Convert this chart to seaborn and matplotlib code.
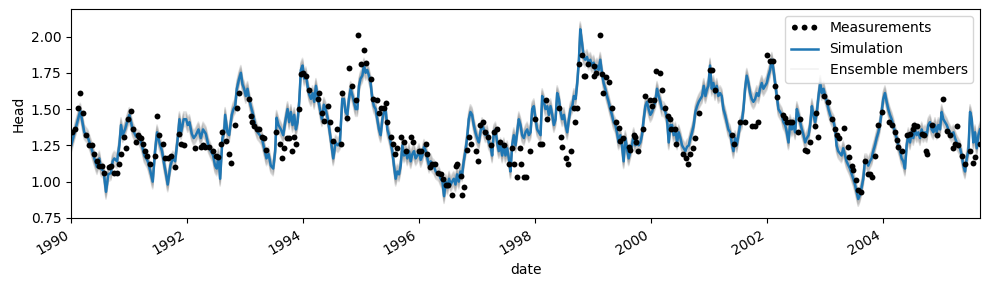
import numpy as np
import pandas as pd
import seaborn as sns
import matplotlib
matplotlib.use("Agg")
from matplotlib import pyplot as plt
import matplotlib.dates as mdates

# simulated head (decimal year, head)
sim_year = [
    1990.000, 1990.157, 1990.226, 1990.283, 1990.341, 1990.399, 1990.445, 1990.485, 1990.514, 1990.560,
    1990.600, 1990.640, 1990.686, 1990.715, 1990.744, 1990.790, 1990.830, 1990.859, 1990.888, 1990.928,
    1990.963, 1991.003, 1991.061, 1991.118, 1991.176, 1991.216, 1991.262, 1991.320, 1991.366, 1991.406,
    1991.446, 1991.481, 1991.521, 1991.567, 1991.608, 1991.636, 1991.665, 1991.711, 1991.752, 1991.792,
    1991.838, 1991.867, 1991.895, 1991.941, 1991.982, 1992.010, 1992.039, 1992.080, 1992.114,
    1992.149, 1992.195, 1992.235, 1992.275, 1992.321, 1992.367, 1992.408, 1992.448, 1992.482, 1992.511,
    1992.540, 1992.569, 1992.609, 1992.638, 1992.655, 1992.695, 1992.724, 1992.770, 1992.799, 1992.828,
    1992.857, 1992.897, 1992.926, 1992.955, 1992.983, 1993.012, 1993.041, 1993.070, 1993.098, 1993.139,
    1993.173, 1993.214, 1993.254, 1993.288, 1993.329, 1993.369, 1993.404, 1993.444, 1993.484, 1993.519,
    1993.542, 1993.576, 1993.617, 1993.657, 1993.691, 1993.732, 1993.760, 1993.789, 1993.818, 1993.847,
    1993.876, 1993.904, 1993.933, 1993.962, 1993.991, 1994.020, 1994.048, 1994.077, 1994.106, 1994.135,
    1994.164, 1994.192, 1994.221, 1994.250, 1994.290, 1994.325,
    1994.359, 1994.388, 1994.428, 1994.474, 1994.520, 1994.561, 1994.601, 1994.635, 1994.676, 1994.705,
    1994.733, 1994.762, 1994.791, 1994.820, 1994.866, 1994.906, 1994.935, 1994.964, 1994.992, 1995.021,
    1995.050, 1995.079, 1995.107, 1995.136, 1995.165, 1995.194, 1995.223, 1995.251, 1995.280, 1995.309,
    1995.338, 1995.367, 1995.395, 1995.424, 1995.453, 1995.482, 1995.510, 1995.539, 1995.568, 1995.597,
    1995.626, 1995.654, 1995.683, 1995.712, 1995.741, 1995.770, 1995.798, 1995.827, 1995.856, 1995.885,
    1995.913, 1995.942, 1995.971, 1996.000, 1996.029, 1996.057, 1996.086, 1996.115, 1996.144, 1996.173,
    1996.201, 1996.230, 1996.259, 1996.288, 1996.316, 1996.345, 1996.374, 1996.403, 1996.432, 1996.460,
    1996.489, 1996.518, 1996.547,
    1996.570, 1996.599, 1996.628, 1996.656, 1996.685, 1996.714, 1996.743, 1996.771, 1996.800, 1996.829,
    1996.858, 1996.887, 1996.915, 1996.944, 1996.973, 1997.002, 1997.031, 1997.059, 1997.088, 1997.117,
    1997.146, 1997.174, 1997.203, 1997.232, 1997.261, 1997.290, 1997.318, 1997.347, 1997.376, 1997.405,
    1997.434, 1997.462, 1997.491, 1997.520, 1997.549, 1997.577, 1997.606, 1997.635, 1997.664, 1997.693,
    1997.721, 1997.750, 1997.779, 1997.808, 1997.837, 1997.865, 1997.894, 1997.923, 1997.952, 1997.980,
    1998.009, 1998.038, 1998.067, 1998.096, 1998.124, 1998.153, 1998.182, 1998.211, 1998.240, 1998.268,
    1998.297, 1998.326, 1998.355, 1998.383, 1998.412, 1998.441, 1998.470, 1998.499, 1998.527, 1998.556,
    1998.585, 1998.614, 1998.643, 1998.671, 1998.700, 1998.729, 1998.758,
    1998.781, 1998.810, 1998.839, 1998.867, 1998.896, 1998.925, 1998.954, 1998.982, 1999.011, 1999.040,
    1999.069, 1999.098, 1999.126, 1999.155, 1999.184, 1999.213, 1999.242, 1999.270, 1999.299, 1999.328,
    1999.357, 1999.385, 1999.414, 1999.443, 1999.472, 1999.501, 1999.529, 1999.558, 1999.587, 1999.616,
    1999.645, 1999.673, 1999.702, 1999.731, 1999.760, 1999.788, 1999.817, 1999.846, 1999.875, 1999.904,
    1999.932, 1999.961, 1999.990, 2000.019, 2000.048, 2000.076, 2000.105, 2000.134, 2000.163, 2000.191,
    2000.220, 2000.249, 2000.278, 2000.307, 2000.335, 2000.364, 2000.393, 2000.422, 2000.451, 2000.479,
    2000.508, 2000.537, 2000.566, 2000.594, 2000.623, 2000.652, 2000.681, 2000.710, 2000.738, 2000.767,
    2000.796, 2000.825, 2000.854, 2000.882, 2000.911, 2000.940, 2000.969,
    2000.991, 2001.020, 2001.049, 2001.077, 2001.106, 2001.135, 2001.164, 2001.193, 2001.221, 2001.250,
    2001.279, 2001.308, 2001.336, 2001.365, 2001.394, 2001.423, 2001.452, 2001.480, 2001.509, 2001.538,
    2001.567, 2001.596, 2001.624, 2001.653, 2001.682, 2001.711, 2001.739, 2001.768, 2001.797, 2001.826,
    2001.855, 2001.883, 2001.912, 2001.941, 2001.970, 2001.998, 2002.027, 2002.056, 2002.085, 2002.114,
    2002.142, 2002.171, 2002.200, 2002.229, 2002.258, 2002.286, 2002.315, 2002.344, 2002.373, 2002.401,
    2002.430, 2002.459, 2002.488, 2002.517, 2002.545, 2002.574, 2002.603, 2002.632, 2002.661, 2002.689,
    2002.718, 2002.747, 2002.776, 2002.804, 2002.833, 2002.862, 2002.891, 2002.920, 2002.948, 2002.977,
    2003.006, 2003.035, 2003.063, 2003.092, 2003.121, 2003.150, 2003.179,
    2003.202, 2003.231, 2003.288, 2003.317, 2003.375, 2003.432, 2003.490, 2003.519, 2003.547, 2003.576,
    2003.605, 2003.634, 2003.663, 2003.691, 2003.720, 2003.749, 2003.778, 2003.806, 2003.835, 2003.864,
    2003.893, 2003.922, 2003.950, 2003.979, 2004.008, 2004.037, 2004.066, 2004.094, 2004.123, 2004.152,
    2004.181, 2004.209, 2004.238, 2004.267, 2004.296, 2004.325, 2004.353, 2004.382, 2004.411, 2004.440,
    2004.469, 2004.497, 2004.526, 2004.555, 2004.584, 2004.612, 2004.641, 2004.670, 2004.699, 2004.728,
    2004.756, 2004.785, 2004.814, 2004.843, 2004.872, 2004.900, 2004.929, 2004.958, 2004.987, 2005.015,
    2005.044, 2005.073, 2005.102, 2005.131, 2005.159, 2005.188, 2005.217, 2005.246, 2005.275, 2005.303,
    2005.332, 2005.361, 2005.390, 2005.418, 2005.447, 2005.476, 2005.505, 2005.534, 2005.562, 2005.591,
    2005.620, 2005.649, 2005.678,
]
sim_head = [
    1.25, 1.49, 1.34, 1.31, 1.24, 1.16, 1.10, 1.16, 1.09, 1.07,
    0.93, 1.05, 1.06, 1.14, 1.16, 1.14, 1.25, 1.39, 1.32, 1.36,
    1.41, 1.46, 1.36, 1.31, 1.30, 1.26, 1.18, 1.14, 1.07, 1.00,
    1.21, 1.34, 1.27, 1.21, 1.11, 1.05, 0.98, 1.11, 1.16, 1.14,
    1.30, 1.43, 1.34, 1.43, 1.43, 1.39, 1.41, 1.33, 1.30,
    1.32, 1.36, 1.30, 1.36, 1.33, 1.25, 1.21, 1.18, 1.11, 1.09,
    1.18, 1.02, 1.30, 1.34, 1.46, 1.34, 1.32, 1.46, 1.50, 1.52,
    1.64, 1.71, 1.75, 1.67, 1.64, 1.59, 1.64, 1.57, 1.52, 1.46,
    1.39, 1.34, 1.32, 1.30, 1.23, 1.16, 1.19, 1.11, 1.09, 1.21,
    1.44, 1.39, 1.36, 1.32, 1.41, 1.50, 1.41, 1.48, 1.39, 1.46,
    1.36, 1.41, 1.55, 1.77, 1.80, 1.71, 1.74, 1.66, 1.60, 1.57,
    1.61, 1.55, 1.66, 1.59, 1.50, 1.43,
    1.53, 1.50, 1.43, 1.30, 1.16, 1.27, 1.25, 1.27, 1.57, 1.57,
    1.48, 1.46, 1.57, 1.64, 1.57, 1.50, 1.50, 1.66, 1.71, 1.73,
    1.80, 1.75, 1.77, 1.73, 1.68, 1.57, 1.52, 1.50, 1.43, 1.36,
    1.32, 1.43, 1.48, 1.50, 1.36, 1.32, 1.27, 1.21, 1.11, 1.02,
    1.07, 1.05, 1.11, 1.25, 1.18, 1.21, 1.16, 1.21, 1.14, 1.19,
    1.21, 1.16, 1.18, 1.21, 1.15, 1.18, 1.24, 1.21, 1.16, 1.11,
    1.14, 1.11, 1.10, 1.07, 1.06, 1.05, 1.02, 1.00, 0.90, 1.00,
    0.96, 1.02, 0.98,
    1.00, 1.02, 0.98, 1.05, 1.00, 1.07, 1.05, 1.14, 1.21, 1.30,
    1.43, 1.48, 1.46, 1.39, 1.34, 1.30, 1.27, 1.34, 1.39, 1.36,
    1.32, 1.34, 1.27, 1.25, 1.18, 1.34, 1.36, 1.27, 1.21, 1.25,
    1.18, 1.25, 1.18, 1.23, 1.16, 1.07, 1.25, 1.32, 1.25, 1.34,
    1.43, 1.39, 1.32, 1.30, 1.34, 1.36, 1.32, 1.34, 1.50, 1.52,
    1.43, 1.36, 1.34, 1.32, 1.59, 1.55, 1.50, 1.52, 1.46, 1.52,
    1.46, 1.39, 1.43, 1.61, 1.57, 1.48, 1.43, 1.46, 1.39, 1.34,
    1.43, 1.50, 1.52, 1.59, 1.57, 1.68, 1.84,
    2.05, 1.96, 1.86, 1.84, 1.86, 1.82, 1.84, 1.80, 1.82, 1.77,
    1.80, 1.77, 1.84, 1.75, 1.68, 1.64, 1.59, 1.55, 1.50, 1.46,
    1.41, 1.39, 1.34, 1.27, 1.32, 1.25, 1.14, 1.30, 1.23, 1.16,
    1.21, 1.25, 1.32, 1.25, 1.27, 1.25, 1.27, 1.32, 1.43, 1.52,
    1.55, 1.50, 1.46, 1.48, 1.52, 1.55, 1.64, 1.59, 1.55, 1.50,
    1.50, 1.48, 1.43, 1.27, 1.39, 1.39, 1.32, 1.36, 1.27, 1.34,
    1.30, 1.25, 1.23, 1.21, 1.24, 1.25, 1.30, 1.34, 1.39, 1.48,
    1.52, 1.55, 1.57, 1.59, 1.66, 1.59, 1.64,
    1.66, 1.80, 1.64, 1.68, 1.61, 1.66, 1.59, 1.61, 1.59, 1.50,
    1.46, 1.41, 1.36, 1.34, 1.27, 1.21, 1.30, 1.25, 1.32, 1.39,
    1.41, 1.50, 1.64, 1.73, 1.68, 1.61, 1.57, 1.55, 1.57, 1.61,
    1.59, 1.64, 1.68, 1.64, 1.66, 1.68, 1.73, 1.77, 1.84, 1.77,
    1.68, 1.59, 1.50, 1.48, 1.46, 1.41, 1.39, 1.34, 1.27, 1.41,
    1.36, 1.39, 1.34, 1.50, 1.46, 1.41, 1.36, 1.32, 1.27, 1.30,
    1.32, 1.39, 1.52, 1.46, 1.41, 1.48, 1.59, 1.68, 1.61, 1.64,
    1.59, 1.55, 1.50, 1.46, 1.43, 1.41, 1.36,
    1.25, 1.21, 1.18, 1.23, 1.14, 1.09, 1.02, 0.98, 0.93, 0.88,
    0.91, 0.96, 1.02, 1.14, 1.14, 1.11, 1.14, 1.16, 1.21, 1.25,
    1.30, 1.34, 1.39, 1.48, 1.57, 1.61, 1.55, 1.50, 1.46, 1.43,
    1.39, 1.34, 1.30, 1.25, 1.21, 1.16, 1.14, 1.09, 1.25, 1.32,
    1.27, 1.34, 1.30, 1.36, 1.32, 1.34, 1.30, 1.36, 1.32, 1.34,
    1.32, 1.39, 1.41, 1.36, 1.34, 1.39, 1.34, 1.39, 1.36, 1.48,
    1.43, 1.41, 1.39, 1.36, 1.34, 1.32, 1.34, 1.30, 1.27, 1.25,
    1.23, 1.18, 1.11, 1.07, 1.16, 1.21, 1.48, 1.43, 1.27, 1.34,
    1.23, 1.32, 1.36,
]

# measured heads (decimal year, head)
obs_year = [
    1990.007, 1990.065, 1990.111, 1990.151, 1990.197, 1990.255, 1990.312, 1990.358, 1990.399, 1990.439,
    1990.485, 1990.531, 1990.571, 1990.646, 1990.686, 1990.744, 1990.784, 1990.819, 1990.859, 1990.905,
    1990.945, 1990.986, 1991.032, 1991.072, 1991.118, 1991.147, 1991.176, 1991.205, 1991.233, 1991.274,
    1991.302, 1991.366, 1991.446, 1991.481, 1991.521, 1991.579, 1991.619, 1991.665, 1991.723, 1991.792,
    1991.867, 1991.895, 1991.941, 1992.137,
    1992.235, 1992.275, 1992.310, 1992.379, 1992.448, 1992.494, 1992.540, 1992.580, 1992.597, 1992.667,
    1992.724, 1992.753, 1992.828, 1992.868, 1992.897, 1993.070, 1993.098, 1993.127, 1993.156, 1993.202,
    1993.231, 1993.288, 1993.329, 1993.358, 1993.530, 1993.599, 1993.634, 1993.674, 1993.714, 1993.760,
    1993.806, 1993.847, 1993.876, 1993.933, 1993.962, 1994.002, 1994.048, 1994.094, 1994.250, 1994.279,
    1994.325,
    1994.365, 1994.428, 1994.463, 1994.520, 1994.589, 1994.658, 1994.676, 1994.762, 1994.791, 1994.848,
    1994.906, 1994.952, 1994.992, 1995.050, 1995.090, 1995.165, 1995.211, 1995.269, 1995.309, 1995.349,
    1995.395, 1995.424, 1995.453, 1995.510, 1995.556, 1995.579, 1995.614, 1995.694, 1995.741, 1995.770,
    1995.866, 1995.901, 1996.000, 1996.040, 1996.115, 1996.144, 1996.190, 1996.230, 1996.276, 1996.328,
    1996.374, 1996.414, 1996.460, 1996.501, 1996.570, 1996.633, 1996.743, 1996.777,
    1996.656, 1996.731, 1996.829, 1996.869, 1996.904, 1996.985, 1997.019, 1997.059, 1997.100, 1997.146,
    1997.192, 1997.249, 1997.290, 1997.347, 1997.405, 1997.462, 1997.549, 1997.606, 1997.635, 1997.693,
    1997.750, 1997.767, 1997.808, 1997.848, 1997.906, 1997.998, 1998.078, 1998.113, 1998.182, 1998.211,
    1998.412, 1998.441, 1998.470, 1998.527, 1998.573, 1998.614, 1998.671, 1998.689, 1998.729, 1998.758,
    1998.844,
    1998.810, 1998.867, 1998.908, 1999.011, 1999.023, 1999.057, 1999.115, 1999.155, 1999.172, 1999.230,
    1999.270, 1999.328, 1999.403, 1999.443, 1999.472, 1999.518, 1999.616, 1999.645, 1999.702, 1999.731,
    1999.748, 1999.771, 1999.858, 1999.904, 1999.990, 2000.019, 2000.048, 2000.094, 2000.163, 2000.191,
    2000.249, 2000.295, 2000.324, 2000.347, 2000.410, 2000.439, 2000.554, 2000.612, 2000.635, 2000.681,
    2000.727, 2000.767, 2000.825, 2001.026,
    2001.049, 2001.106, 2001.394, 2001.440, 2001.538, 2001.624, 2001.739, 2001.797, 2001.843, 2001.998,
    2002.056, 2002.102, 2002.142, 2002.171, 2002.286, 2002.304, 2002.344, 2002.401, 2002.430, 2002.545,
    2002.574, 2002.661, 2002.689, 2002.747, 2002.822, 2002.845, 2002.880, 2002.977, 2003.052, 2003.121,
    2003.167, 2003.207, 2003.248,
    2003.329, 2003.392, 2003.421, 2003.461, 2003.490, 2003.536, 2003.576, 2003.617, 2003.691, 2003.737,
    2003.778, 2003.806, 2003.864, 2003.922, 2003.979, 2004.112, 2004.152, 2004.209, 2004.238, 2004.267,
    2004.325, 2004.411, 2004.469, 2004.515, 2004.543, 2004.584, 2004.670, 2004.710, 2004.745, 2004.768,
    2004.843, 2004.929, 2005.033, 2005.102, 2005.159, 2005.206, 2005.246, 2005.275, 2005.303, 2005.361,
    2005.418, 2005.505, 2005.562, 2005.591, 2005.678,
]
obs_head = [
    1.34, 1.36, 1.51, 1.61, 1.47, 1.32, 1.25, 1.25, 1.19, 1.14,
    1.11, 1.11, 1.06, 1.10, 1.11, 1.06, 1.06, 1.12, 1.19, 1.31,
    1.23, 1.43, 1.49, 1.36, 1.27, 1.32, 1.31, 1.30, 1.26, 1.21,
    1.18, 1.12, 1.18, 1.45, 1.32, 1.26, 1.16, 1.16, 1.18, 1.10,
    1.33, 1.26, 1.25, 1.23,
    1.24, 1.25, 1.24, 1.24, 1.21, 1.18, 1.17, 1.26, 1.34, 1.28,
    1.19, 1.13, 1.39, 1.51, 1.61, 1.57, 1.45, 1.41, 1.38, 1.36,
    1.36, 1.31, 1.30, 1.22, 1.34, 1.26, 1.16, 1.23, 1.30, 1.30,
    1.21, 1.31, 1.26, 1.50, 1.74, 1.75, 1.73, 1.63, 1.57, 1.61,
    1.47,
    1.42, 1.52, 1.41, 1.28, 1.36, 1.26, 1.61, 1.44, 1.78, 1.66,
    1.56, 2.01, 1.81, 1.91, 1.82, 1.71, 1.57, 1.56, 1.47, 1.51,
    1.51, 1.54, 1.41, 1.31, 1.26, 1.19, 1.23, 1.31, 1.27, 1.21,
    1.31, 1.27, 1.21, 1.21, 1.26, 1.19, 1.10, 1.12, 1.12, 1.06,
    1.05, 1.02, 0.98, 0.98, 0.91, 1.11, 0.91, 0.96,
    1.12, 1.04, 1.22, 1.31, 1.26, 1.21, 1.14, 1.39, 1.41, 1.34,
    1.31, 1.25, 1.34, 1.36, 1.27, 1.25, 1.12, 1.23, 1.12, 1.03,
    1.23, 1.12, 1.03, 1.03, 1.21, 1.43, 1.26, 1.26, 1.56, 1.43,
    1.51, 1.31, 1.24, 1.16, 1.12, 1.21, 1.51, 1.41, 1.51, 1.81,
    1.73,
    1.87, 1.73, 1.81, 1.80, 1.73, 1.75, 2.01, 1.74, 1.61, 1.72,
    1.69, 1.51, 1.41, 1.37, 1.28, 1.30, 1.24, 1.22, 1.32, 1.31,
    1.27, 1.21, 1.36, 1.59, 1.56, 1.52, 1.56, 1.76, 1.75, 1.63,
    1.51, 1.45, 1.43, 1.36, 1.36, 1.26, 1.19, 1.16, 1.12, 1.19,
    1.23, 1.30, 1.47, 1.77,
    1.77, 1.63, 1.32, 1.26, 1.41, 1.41, 1.38, 1.38, 1.41, 1.87,
    1.83, 1.83, 1.66, 1.58, 1.46, 1.44, 1.41, 1.41, 1.41, 1.34,
    1.43, 1.22, 1.21, 1.27, 1.38, 1.47, 1.31, 1.59, 1.55, 1.43,
    1.36, 1.32, 1.30,
    1.37, 1.24, 1.17, 1.11, 1.08, 1.01, 0.94, 0.93, 1.14, 1.05,
    1.05, 1.03, 1.18, 1.39, 1.48, 1.41, 1.39, 1.34, 1.29, 1.24,
    1.21, 1.32, 1.33, 1.36, 1.39, 1.38, 1.33, 1.32, 1.21, 1.19,
    1.39, 1.32, 1.57, 1.35, 1.32, 1.23, 1.26, 1.38, 1.25, 1.18,
    1.12, 1.21, 1.13, 1.17, 1.26,
]

# spread of the ensemble members around the simulation
ens_offsets = [-0.05, -0.04, -0.03, -0.02, -0.01, 0.01, 0.02, 0.03, 0.04, 0.05]

head_ticks = [0.75, 1.00, 1.25, 1.50, 1.75, 2.00]


def to_dates(years):
    years = np.asarray(years, dtype=float)
    return pd.Timestamp("1990-01-01") + pd.to_timedelta((years - 1990.0) * 365.25, unit="D")


def plot():
    sim = pd.DataFrame({"date": to_dates(sim_year), "Head": sim_head})
    obs = pd.DataFrame({"date": to_dates(obs_year), "Head": obs_head})

    fig, ax = plt.subplots(figsize=(9.89, 2.89), dpi=100)

    for i, off in enumerate(ens_offsets):
        sns.lineplot(x=sim["date"], y=sim["Head"] + off, color="gray", alpha=0.22, lw=1.2,
                     sort=False, estimator=None, ax=ax,
                     label="Ensemble members" if i == 0 else None)
    sns.lineplot(x=sim["date"], y=sim["Head"], color="#1f77b4", lw=1.8, sort=False,
                 estimator=None, ax=ax, label="Simulation")
    sns.scatterplot(x=obs["date"], y=obs["Head"], color="k", s=18, linewidth=0,
                    zorder=3, ax=ax, label="Measurements")

    handles, labels = ax.get_legend_handles_labels()
    order = [labels.index(l) for l in ["Measurements", "Simulation", "Ensemble members"]]
    leg = ax.legend([handles[i] for i in order], [labels[i] for i in order], loc="upper right",
                    scatterpoints=3, scatteryoffsets=[0.5])
    leg.get_lines()[-1].set_alpha(0.1)

    ax.set_xlim(sim["date"].iloc[0], sim["date"].iloc[-1])
    ax.set_ylim(0.75, 2.19)
    ax.set_yticks(head_ticks)
    ax.xaxis.set_major_locator(mdates.YearLocator(2))
    ax.xaxis.set_major_formatter(mdates.DateFormatter("%Y"))
    plt.setp(ax.get_xticklabels(), rotation=30, ha="right")
    ax.set_xlabel("date")
    ax.set_ylabel("Head")

    fig.subplots_adjust(left=0.072, right=0.991, top=0.969, bottom=0.246)
    fig.savefig("out.png", dpi=100)
    plt.close(fig)


def main():
    plot()


if __name__ == '__main__':
    main()
